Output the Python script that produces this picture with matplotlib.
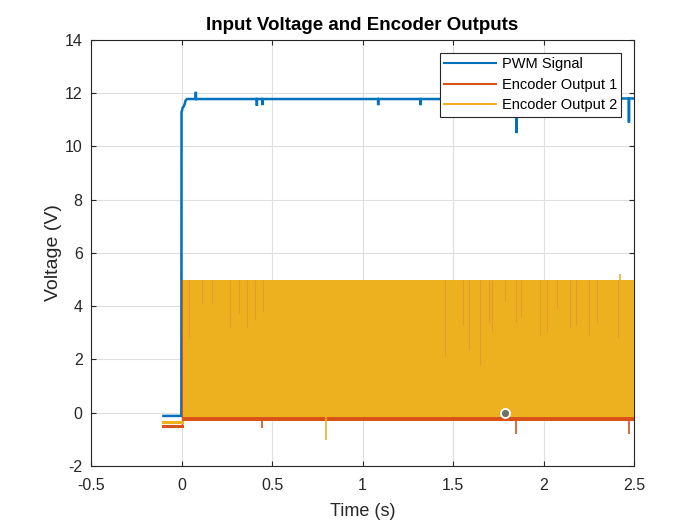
import numpy as np
import matplotlib
matplotlib.use("Agg")
import matplotlib.pyplot as plt
from matplotlib.lines import Line2D

plt.rcParams['font.family'] = ['Liberation Sans', 'DejaVu Sans']
plt.rcParams['axes.unicode_minus'] = False

C_PWM = '#0072BD'
C_E1 = '#D95319'
C_E2 = '#EDB120'

# PWM signal (s, V)
pwm_t = [-0.10, -0.001, 0.0, 0.003, 0.006, 0.012, 0.018, 0.022, 0.030, 0.078, 0.079, 0.080,
         0.415, 0.416, 0.417, 0.445, 0.446, 0.447, 1.085, 1.086, 1.087, 1.320, 1.321, 1.322,
         1.850, 1.851, 1.852, 2.440, 2.470, 2.471, 2.472, 2.50]
pwm_v = [-0.12, -0.12, 11.30, 11.35, 11.45, 11.50, 11.60, 11.72, 11.78, 11.78, 12.05, 11.78,
         11.78, 11.53, 11.78, 11.78, 11.55, 11.78, 11.78, 11.55, 11.78, 11.78, 11.55, 11.78,
         11.78, 10.50, 11.78, 11.80, 11.80, 10.90, 11.80, 11.80]

# encoder outputs: pre-start level, then square wave envelope (low / high)
pre_t = [-0.10, 0.0]
enc1_pre = [-0.48, -0.48]
enc2_pre = [-0.33, -0.33]
band_t = [0.0, 2.5]
enc1_low = [-0.30, -0.30]
enc1_high = [5.00, 5.00]
enc2_low = [-0.15, -0.15]
enc2_high = [4.97, 4.97]

# isolated glitches
enc1_dip_t = [0.443, 1.848, 2.470]
enc1_dip_v = [-0.57, -0.80, -0.78]
enc2_dip_t = [0.800]
enc2_dip_v = [-1.02]
enc2_peak_t = [2.42]
enc2_peak_v = [5.22]

# gaps in output 2 where output 1 shows through (time, lowest value)
gap_t = [0.043, 0.115, 0.167, 0.270, 0.320, 0.364, 0.406, 0.452,
         1.456, 1.557, 1.585, 1.646, 1.700, 1.717, 1.787, 1.848, 1.876,
         1.977, 2.020, 2.076, 2.146, 2.180, 2.253, 2.297, 2.413]
gap_v = [2.86, 4.10, 4.10, 3.20, 3.70, 3.20, 3.50, 3.80,
         2.10, 3.30, 2.35, 1.80, 3.37, 3.03, 4.20, 3.40, 3.60,
         2.90, 3.03, 3.90, 3.20, 3.30, 2.90, 3.37, 2.80]

tip_t, tip_v = 1.785, 0.0

fig = plt.figure(figsize=(7, 5.25), dpi=100)
ax = fig.add_axes([0.13, 0.1124, 0.776, 0.8116])

ax.plot(pwm_t, pwm_v, color=C_PWM, lw=1.8, solid_joinstyle='miter', zorder=3)

ax.plot(pre_t, enc1_pre, color=C_E1, lw=2.2, zorder=4)
ax.plot([0.0, 0.0], [enc1_pre[-1], enc1_high[0]], color=C_E1, lw=1.0, zorder=4)
ax.fill_between(band_t, enc1_low, enc1_high, color=C_E1, lw=0, zorder=4)
ax.vlines(enc1_dip_t, enc1_low[0], enc1_dip_v, color=C_E1, lw=1.2, zorder=4)

ax.plot(pre_t, enc2_pre, color=C_E2, lw=2.2, zorder=5)
ax.fill_between([band_t[0] + 0.006, band_t[1]], enc2_low, enc2_high, color=C_E2, lw=0, zorder=5)
ax.vlines(enc2_dip_t, enc2_low[0], enc2_dip_v, color=C_E2, lw=1.2, zorder=5)
ax.vlines(enc2_peak_t, enc2_high[0], enc2_peak_v, color=C_E2, lw=1.2, zorder=5)
ax.vlines(gap_t, gap_v, enc2_high[0], color='#E69A2B', lw=0.8, zorder=6)

ax.plot(tip_t, tip_v, 'o', ms=6.5, mfc='#707070', mec='white', mew=1.3, zorder=8)

ax.set_xlim(-0.5, 2.5)
ax.set_ylim(-2, 14)
ax.set_xticks(np.arange(-0.5, 2.51, 0.5))
ax.set_xticklabels(['-0.5', '0', '0.5', '1', '1.5', '2', '2.5'])
ax.set_yticks(np.arange(-2, 15, 2))
ax.grid(True, color='#DFDFDF', lw=0.8, zorder=0)
ax.set_axisbelow(True)
ax.tick_params(direction='in', top=True, right=True, length=3.5, labelsize=11.5, colors='#262626')
ax.tick_params(axis='x', pad=9)
ax.tick_params(axis='y', pad=6)
for s in ax.spines.values():
    s.set_color('#262626')
    s.set_linewidth(0.8)

ax.set_title('Input Voltage and Encoder Outputs', fontsize=13.5, fontweight='bold', color='#000000', pad=7)
ax.set_xlabel('Time (s)', fontsize=13, color='#262626', labelpad=7)
ax.set_ylabel('Voltage (V)', fontsize=14, color='#262626', labelpad=2)

handles = [Line2D([], [], color=C_PWM, lw=1.5), Line2D([], [], color=C_E1, lw=1.5),
           Line2D([], [], color=C_E2, lw=1.5)]
leg = ax.legend(handles, ['PWM Signal', 'Encoder Output 1', 'Encoder Output 2'],
                loc='upper right', bbox_to_anchor=(0.976, 0.970), fontsize=10.5, fancybox=False,
                framealpha=1, edgecolor='#262626', handlelength=3.6, handletextpad=0.35,
                borderpad=0.3, labelspacing=0.45, borderaxespad=0.0)
leg.get_frame().set_linewidth(0.8)
leg.set_zorder(10)

fig.savefig('out.png', dpi=100)
